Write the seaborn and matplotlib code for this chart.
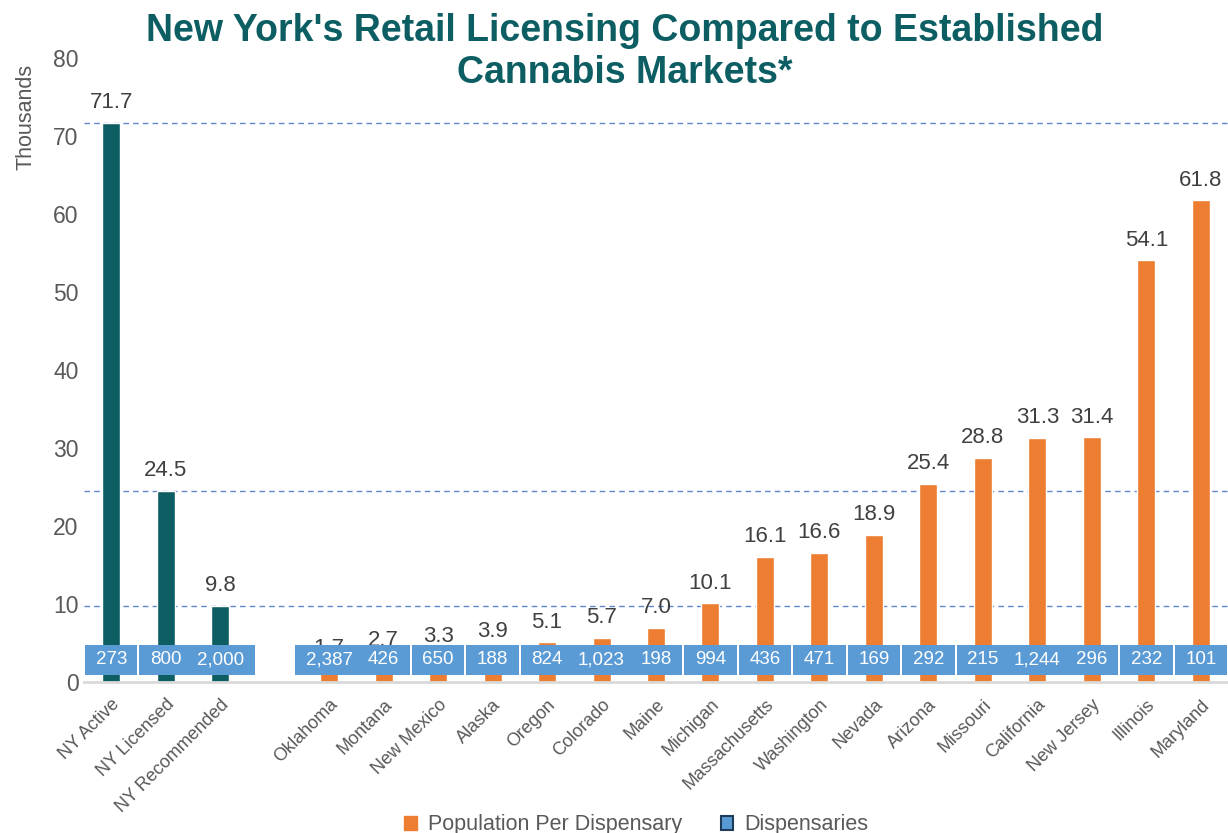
import matplotlib
matplotlib.use("Agg")
import matplotlib.pyplot as plt
from matplotlib.patches import Patch
import seaborn as sns
import pandas as pd

# Markets and their population per dispensary (thousands)
ny_markets = ["NY Active", "NY Licensed", "NY Recommended"]
ny_pop_per_dispensary = [71.7, 24.5, 9.8]
ny_dispensaries = [273, 800, 2000]

states = ["Oklahoma", "Montana", "New Mexico", "Alaska", "Oregon", "Colorado",
          "Maine", "Michigan", "Massachusetts", "Washington", "Nevada", "Arizona",
          "Missouri", "California", "New Jersey", "Illinois", "Maryland"]
state_pop_per_dispensary = [1.7, 2.7, 3.3, 3.9, 5.1, 5.7, 7.0, 10.1, 16.1, 16.6,
                            18.9, 25.4, 28.8, 31.3, 31.4, 54.1, 61.8]
state_dispensaries = [2387, 426, 650, 188, 824, 1023, 198, 994, 436, 471, 169,
                      292, 215, 1244, 296, 232, 101]

yticks = [0, 10, 20, 30, 40, 50, 60, 70, 80]

TEAL = "#0d5e63"
ORANGE = "#ed7d31"
BOX_BLUE = "#5b9bd5"
GREY = "#595959"
DARK = "#404040"

df = pd.DataFrame({
    "market": ny_markets + states,
    "pop": ny_pop_per_dispensary + state_pop_per_dispensary,
    "disp": ny_dispensaries + state_dispensaries,
    "group": ["ny"] * len(ny_markets) + ["state"] * len(states),
})

spacer = " "
order = ny_markets + [spacer] + states
pos = {name: i for i, name in enumerate(order)}

sns.set_style("white")
plt.rcParams["font.family"] = ["Liberation Sans", "DejaVu Sans"]

fig = plt.figure(figsize=(12.28, 8.33), dpi=100)
ax = fig.add_axes([0.0684, 0.181, 0.9316, 0.749])

sns.barplot(data=df, x="market", y="pop", hue="group", order=order,
            palette={"ny": TEAL, "state": ORANGE}, dodge=False, width=0.33,
            legend=False, saturation=1, ax=ax, zorder=1)

ax.set_xlim(-0.5, len(order) - 0.5)
ax.set_ylim(0, 80)
ax.set_yticks(yticks)
ax.set_yticklabels([str(v) for v in yticks], color=GREY, fontsize=16.5)
ax.set_xlabel("")
ax.set_ylabel("")

# reference lines at the New York levels
for v in ny_pop_per_dispensary:
    ax.axhline(v, color="#4472c4", lw=1.0, ls=(0, (4, 3)), alpha=0.85, zorder=0.5)

# value labels above the bars
for _, r in df.iterrows():
    x = pos[r["market"]]
    ax.annotate(f"{r['pop']:.1f}", (x, r["pop"]), xytext=(0, 7),
                textcoords="offset points", ha="center", va="bottom",
                fontsize=16, color=DARK, zorder=2)

# dispensary count labels on filled boxes sized to their text
renderer = fig.canvas.get_renderer()
px_per_slot = ax.get_window_extent(renderer).width / len(order)
xs = [pos[m] for m in df["market"]]
box_widths = []
for x, d in zip(xs, df["disp"]):
    t = ax.text(x, 2.85, f"{d:,}", ha="center", va="center", color="white",
                fontsize=13.5, zorder=4)
    w_px = t.get_window_extent(renderer).width + 22
    box_widths.append(min(w_px, px_per_slot - 2) if w_px < px_per_slot else w_px)
ax.bar(xs, [3.9] * len(xs), bottom=0.9,
       width=[w / px_per_slot for w in box_widths], color=BOX_BLUE,
       linewidth=0, zorder=3)

ax.set_xticks(range(len(order)))
ax.set_xticklabels(order, rotation=45, ha="right", rotation_mode="anchor",
                   color=GREY, fontsize=13)
ax.tick_params(axis="both", length=0)
ax.tick_params(axis="x", pad=10)
ax.tick_params(axis="y", pad=4)

for s in ["top", "right", "left"]:
    ax.spines[s].set_visible(False)
ax.spines["bottom"].set_color("#d9d9d9")
ax.spines["bottom"].set_linewidth(2)
ax.spines["bottom"].set_zorder(5)

fig.text(0.021, 0.86, "Thousands", rotation=90, ha="center", va="center",
         fontsize=15.5, color=GREY)

fig.suptitle("New York's Retail Licensing Compared to Established\nCannabis Markets*",
             x=0.509, y=0.984, va="top", fontsize=27, fontweight="bold",
             color=TEAL, linespacing=1.2)

handles = [Patch(facecolor=ORANGE, edgecolor=ORANGE),
           Patch(facecolor=BOX_BLUE, edgecolor="#1f3b5a", linewidth=1.5)]
fig.legend(handles, ["Population Per Dispensary", "Dispensaries"],
           loc="lower center", bbox_to_anchor=(0.518, -0.026), ncol=2,
           frameon=False, fontsize=15.5, labelcolor=GREY, handlelength=0.6,
           handleheight=0.6, handletextpad=0.5, columnspacing=1.8)

fig.savefig("out.png", dpi=100)
